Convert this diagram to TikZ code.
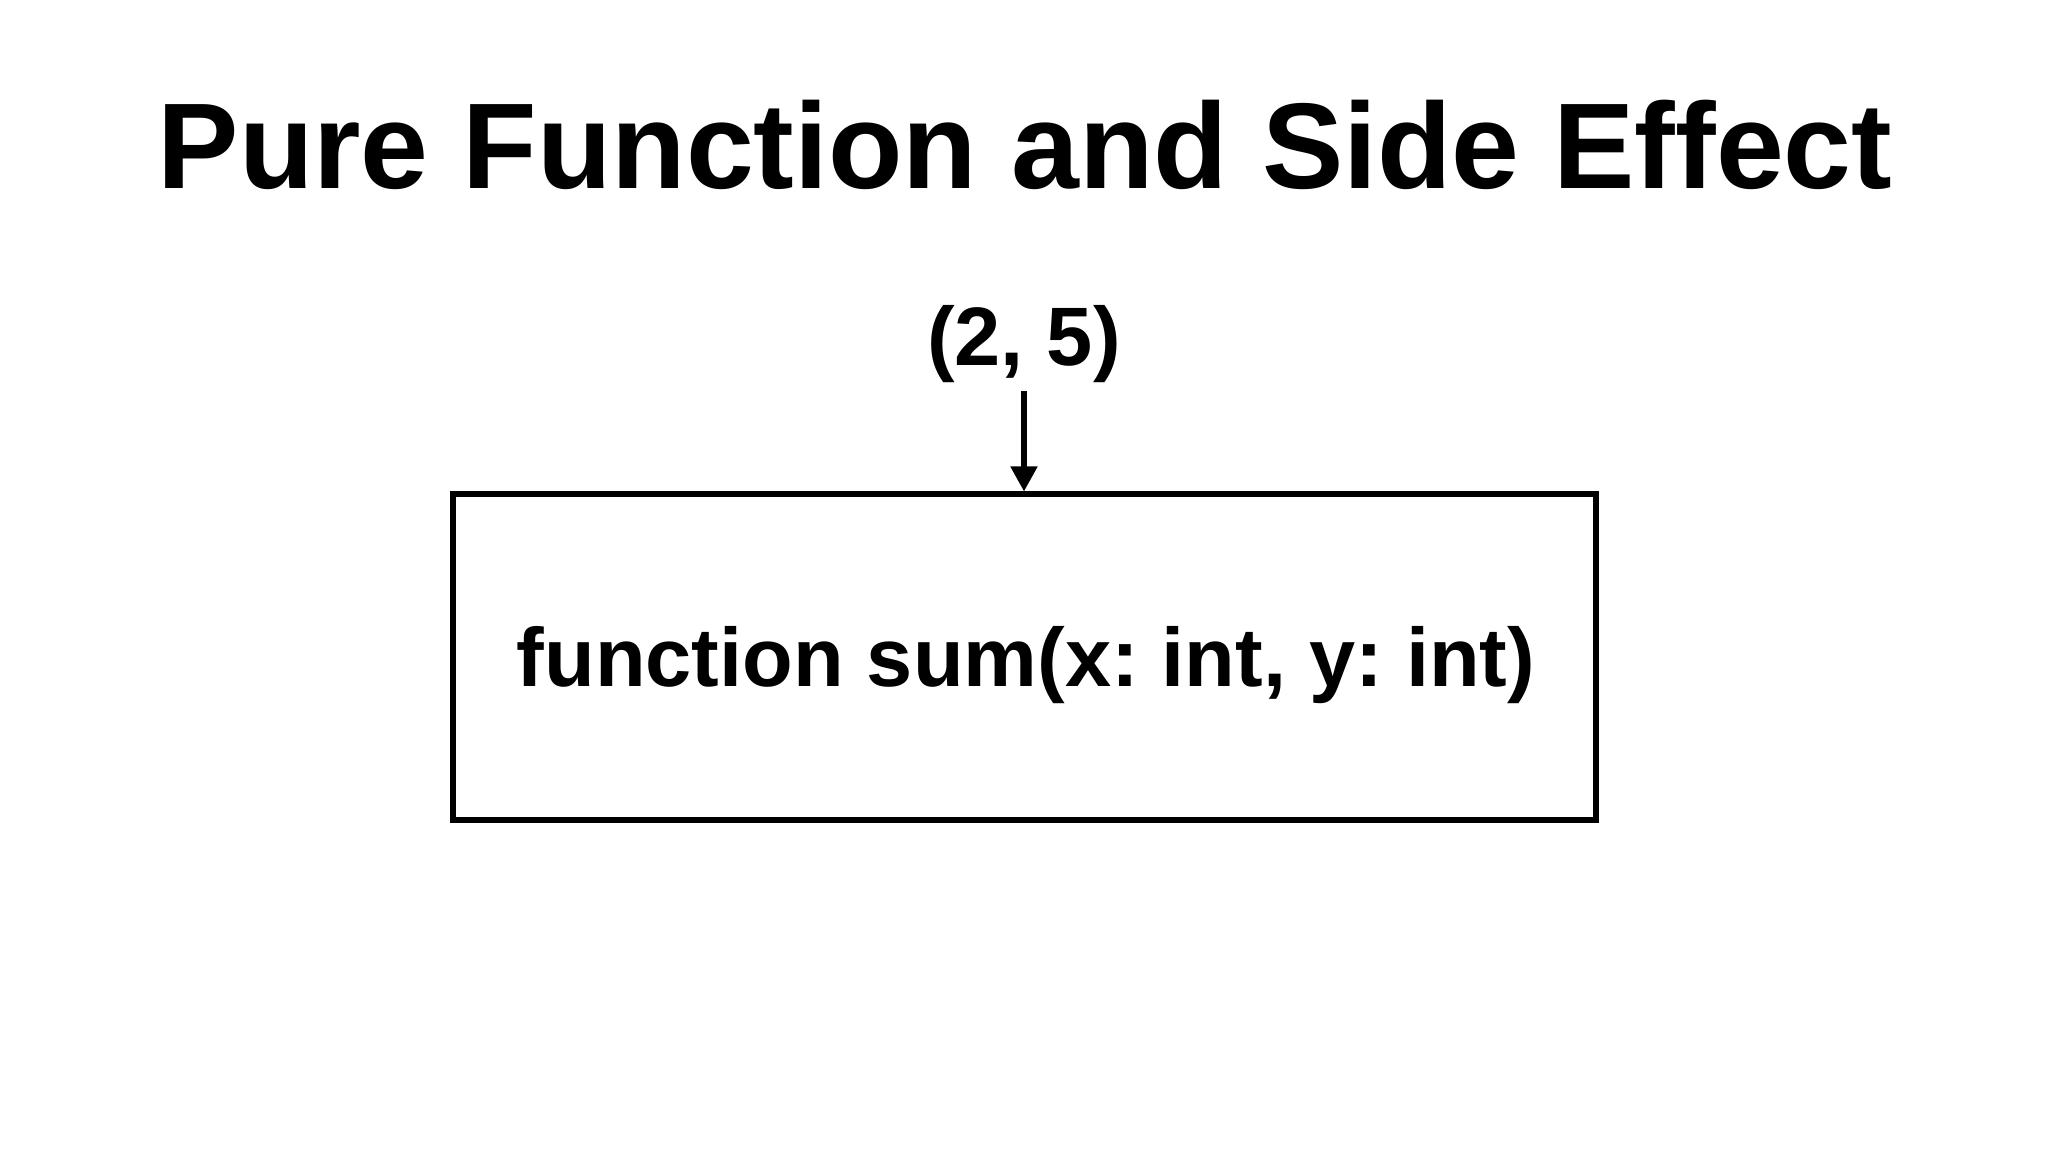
\documentclass[tikz,border=0pt]{standalone}
\usepackage{fontspec}
\setmainfont{Liberation Sans}
\usetikzlibrary{arrows.meta}
\frenchspacing
\tikzset{
  titletext/.style={font=\fontsize{34.7}{40}\selectfont\bfseries, anchor=base, inner sep=0pt},
  labeltext/.style={font=\fontsize{23.6}{28}\selectfont\bfseries, anchor=base, inner sep=2pt},
  funcbox/.style={draw=black, line width=1.45pt, minimum width=11.43cm, minimum height=3.26cm, inner sep=0pt},
  flowarrow/.style={line width=1.45pt, -{Triangle[length=0.25cm, width=0.26cm]}}
}
\begin{document}
\begin{tikzpicture}
\useasboundingbox[fill=white] (0,0) rectangle (20.48,11.52);
\node[titletext] (title) at (10.25,9.63) {Pure Function and Side Effect};
\node[labeltext] (inp) at (10.24,7.86) {(2, 5)};
\node[funcbox] (box) at (10.245,4.95) {};
\node[labeltext, inner sep=0pt] (sig) at (10.26,4.65) {function sum(x: int, y: int)};
\draw[flowarrow] (inp.south) -- (inp.south |- box.north);
\end{tikzpicture}
\end{document}
